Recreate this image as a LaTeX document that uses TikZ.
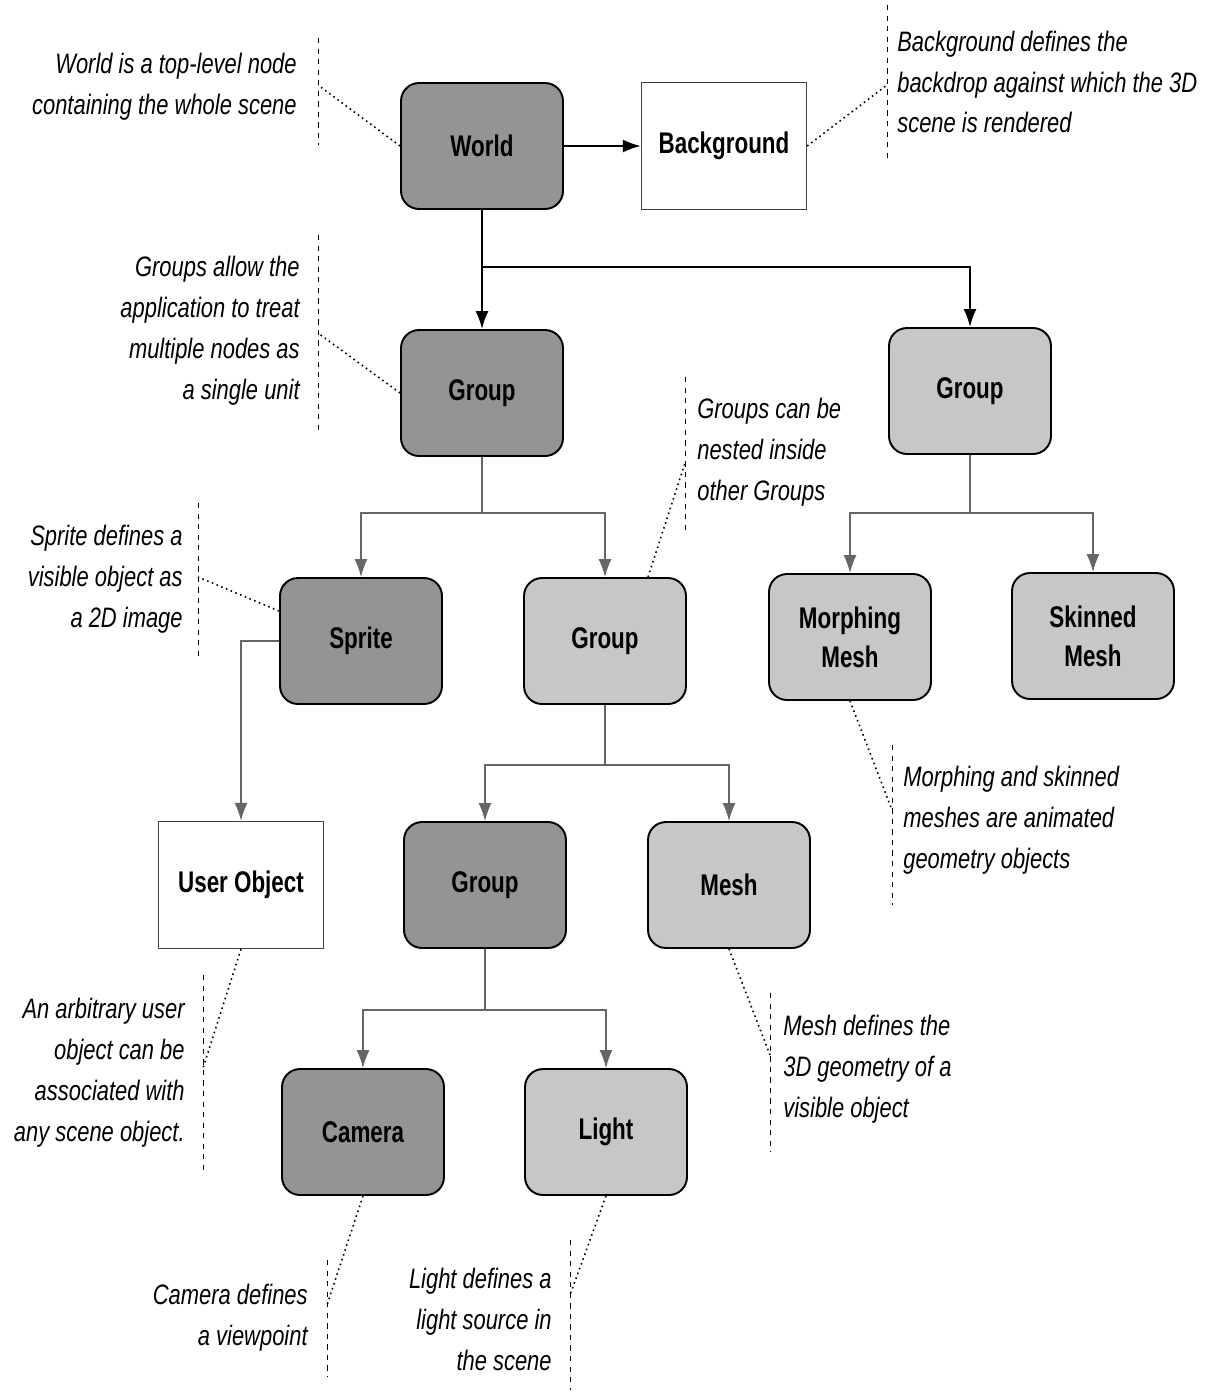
\documentclass[tikz,border=0pt]{standalone}
\usepackage{fontspec}
\newfontfamily\narrowsf{Liberation Sans}[FakeStretch=0.75]
\newfontfamily\notesf{Liberation Sans}[FakeStretch=0.78]
\usetikzlibrary{positioning,arrows.meta}

\begin{document}
\begin{tikzpicture}[
  x=0.02cm, y=-0.02cm,
  darkbox/.style={draw,line width=1.1pt,rounded corners=0.36cm,fill=black!42,
    minimum width=3.24cm,minimum height=2.52cm,align=center,
    font=\narrowsf\fontsize{17}{22}\selectfont\bfseries},
  lightbox/.style={darkbox,fill=black!22},
  plainbox/.style={draw=black!75,line width=0.8pt,fill=white,
    minimum width=3.3cm,minimum height=2.54cm,align=center,
    font=\narrowsf\fontsize{17}{22}\selectfont\bfseries},
  toplink/.style={line width=1.1pt,-{Latex[length=3.6mm,width=2.6mm]}},
  link/.style={draw=black!60,line width=0.8pt,-{Latex[length=3.6mm,width=2.6mm]}},
  note/.style={inner sep=0pt,font=\notesf\fontsize{16}{23.3}\selectfont\itshape},
  divider/.style={dashed,line width=0.5pt},
  leader/.style={dotted,line width=0.9pt}
]
\useasboundingbox (0,0) rectangle (1214,1394);

% scene graph
\node[darkbox] (world) at (482,146) {World};
\node[plainbox] (bg) at (724,146) {Background};
\node[darkbox] (grp1) at (482,393) {Group};
\node[lightbox] (grp2) at (970,391) {Group};
\node[darkbox] (sprite) at (361,641) {Sprite};
\node[lightbox] (grp3) at (605,641) {Group};
\node[lightbox] (morph) at (850,637) {Morphing\\Mesh};
\node[lightbox] (skin) at (1093,636) {Skinned\\Mesh};
\node[plainbox] (user) at (241,885) {User Object};
\node[darkbox] (grp4) at (485,885) {Group};
\node[lightbox] (mesh) at (729,885) {Mesh};
\node[darkbox] (cam) at (363,1132) {Camera};
\node[lightbox] (lgt) at (606,1132) {Light};

\coordinate (j0) at (482,267);
\coordinate (j1) at (482,513);
\coordinate (j2) at (970,513);
\coordinate (j3) at (605,765);
\coordinate (j4) at (485,1010);

\draw[toplink] (world) -- (bg);
\draw[toplink] (world) -- (grp1);
\draw[toplink] (world.south) -- (j0) -| (grp2.north);
\draw[link] (grp1.south) -- (j1) -| (sprite.north);
\draw[link] (j1) -| (grp3.north);
\draw[link] (grp2.south) -- (j2) -| (morph.north);
\draw[link] (j2) -| (skin.north);
\draw[link] (sprite.west) -| (user.north);
\draw[link] (grp3.south) -- (j3) -| (grp4.north);
\draw[link] (j3) -| (mesh.north);
\draw[link] (grp4.south) -- (j4) -| (cam.north);
\draw[link] (j4) -| (lgt.north);

% notes
\node[note,anchor=east,align=right] (nworld) at (297,87)
  {World is a top-level node\\containing the whole scene};
\node[note,anchor=west,align=left] (nbg) at (897,82)
  {Background defines the\\backdrop against which the 3D\\scene is rendered};
\node[note,anchor=east,align=right] (ngrp) at (300,331)
  {Groups allow the\\application to treat\\multiple nodes as\\a single unit};
\node[note,anchor=east,align=right] (nsprite) at (183,579)
  {Sprite defines a\\visible object as\\a 2D image};
\node[note,anchor=west,align=left] (nnest) at (697,452)
  {Groups can be\\nested inside\\other Groups};
\node[note,anchor=west,align=left] (nmorph) at (903,820)
  {Morphing and skinned\\meshes are animated\\geometry objects};
\node[note,anchor=west,align=left] (nmesh) at (783,1069)
  {Mesh defines the\\3D geometry of a\\visible object};
\node[note,anchor=east,align=right] (nuser) at (185,1073)
  {An arbitrary user\\object can be\\associated with\\any scene object.};
\node[note,anchor=east,align=right] (ncam) at (308,1318)
  {Camera defines\\a viewpoint};
\node[note,anchor=east,align=right] (nlgt) at (552,1319)
  {Light defines a\\light source in\\the scene};

\foreach \x/\ya/\yb in {318/38/145, 887/5/160, 318/235/433, 198/503/658,
    685/377/533, 892/745/905, 770/993/1152, 203/975/1175, 327/1260/1377,
    570/1240/1390}
  \draw[divider] (\x,\ya) -- (\x,\yb);

\coordinate (cworld) at (318,85);
\coordinate (cbg) at (887,85);
\coordinate (cgrp) at (318,333);
\coordinate (csprite) at (198,577);
\coordinate (cnest) at (685,463);
\coordinate (cmorph) at (892,810);
\coordinate (cmesh) at (770,1055);
\coordinate (cuser) at (203,1068);
\coordinate (ccam) at (327,1305);
\coordinate (clgt) at (570,1295);

\draw[leader] (world.west) -- (cworld);
\draw[leader] (bg.east) -- (cbg);
\draw[leader] (grp1.west) -- (cgrp);
\draw[leader] ([yshift=0.6cm]sprite.west) -- (csprite);
\draw[leader] ([xshift=0.86cm]grp3.north) -- (cnest);
\draw[leader] (morph.south) -- (cmorph);
\draw[leader] (mesh.south) -- (cmesh);
\draw[leader] (user.south) -- (cuser);
\draw[leader] (cam.south) -- (ccam);
\draw[leader] (lgt.south) -- (clgt);
\end{tikzpicture}
\end{document}
